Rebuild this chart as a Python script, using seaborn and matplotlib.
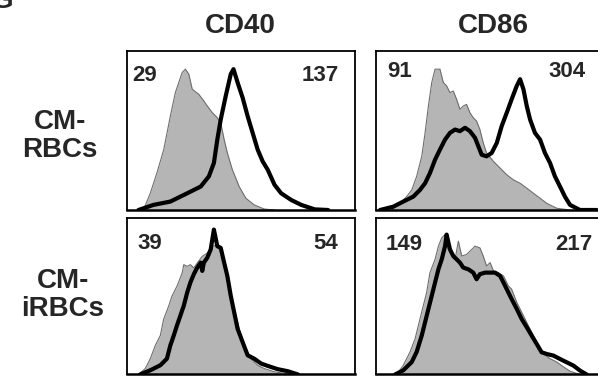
import matplotlib
matplotlib.use("Agg")
import matplotlib.pyplot as plt
import seaborn as sns

# fluorescence channel (0-100) and relative counts (% of panel height)
# CD40 / CM-RBCs
cd40_rbc_iso_x = [7.2, 10.2, 13.1, 16.1, 19.0, 21.2, 24.2, 25.6, 27.1, 28.6, 31.5, 33.7, 35.2, 37.4,
                  39.6, 41.1, 42.6, 44.0, 46.2, 49.2, 52.1, 55.8, 60.2, 64.7]
cd40_rbc_iso_y = [0, 10.5, 23.2, 37.9, 58.9, 73.7, 86.3, 88.4, 85.3, 75.8, 72.6, 68.4, 65.3, 61.1,
                  57.9, 54.7, 44.2, 35.8, 25.3, 14.7, 7.4, 3.2, 0.6, 0]
cd40_rbc_x = [5.0, 11.6, 19.0, 26.4, 32.3, 35.9, 38.1, 39.6, 41.1, 43.3, 45.5, 46.7, 48.5, 50.7, 52.9,
              55.1, 57.3, 59.5, 61.7, 64.7, 67.6, 72.0, 76.4, 82.3, 88.2]
cd40_rbc_y = [0, 3.2, 5.3, 10.5, 14.7, 21.1, 29.5, 44.2, 56.8, 71.6, 85.3, 88.4, 80.0, 70.5, 58.9,
              48.4, 37.9, 30.5, 25.3, 15.8, 10.5, 6.3, 3.2, 0.4, 0]

# CD86 / CM-RBCs
cd86_rbc_iso_x = [7.1, 10.8, 13.8, 16.1, 18.3, 20.6, 22.1, 23.6, 25.1, 26.6, 28.8, 30.3, 31.8, 33.3,
                  34.8, 36.3, 37.8, 39.3, 40.8, 42.3, 43.8, 45.3, 46.8, 48.3, 49.8, 52.9, 55.9, 58.9,
                  61.9, 64.9, 67.9, 70.9, 73.9, 76.9, 81.4, 87.4]
cd86_rbc_iso_y = [0, 4.2, 8.4, 12.6, 21.1, 33.7, 48.4, 65.3, 80.0, 88.4, 88.4, 80.0, 77.9, 73.7,
                  74.7, 69.5, 63.2, 65.3, 66.3, 61.1, 57.9, 55.8, 50.5, 42.1, 35.8, 30.5, 26.3, 22.1,
                  18.9, 16.8, 13.7, 10.5, 7.4, 4.2, 1.1, 0]
cd86_rbc_x = [1.8, 7.8, 12.3, 16.8, 19.8, 22.1, 24.3, 26.6, 28.8, 31.1, 33.3, 35.6, 37.8, 40.1, 42.3,
              44.6, 46.1, 47.6, 49.8, 52.1, 54.4, 56.6, 58.9, 61.1, 63.4, 64.9, 66.4, 67.9, 69.4,
              71.6, 73.9, 76.1, 78.4, 80.6, 82.9, 85.1, 87.4, 91.9, 99.4]
cd86_rbc_y = [0, 2.1, 5.3, 8.4, 12.6, 16.8, 23.2, 31.6, 37.9, 44.2, 48.4, 50.5, 49.5, 51.6, 49.5,
              45.3, 40.0, 34.7, 33.7, 35.8, 42.1, 52.6, 61.1, 69.5, 77.9, 82.1, 75.8, 65.3, 56.8,
              48.4, 44.2, 35.8, 29.5, 21.1, 14.7, 8.4, 3.2, 0, 0]

# CD40 / CM-iRBCs
cd40_irbc_iso_x = [5.0, 8.0, 10.2, 12.4, 14.6, 16.1, 18.3, 19.7, 21.9, 24.2, 24.9, 26.4, 27.8, 29.3,
                   30.8, 33.0, 35.2, 37.4, 39.6, 41.1, 42.6, 44.0, 45.5, 47.0, 48.5, 49.9, 52.1,
                   54.3, 57.3, 60.2, 64.7, 70.5, 75.0]
cd40_irbc_iso_y = [0, 3.8, 10.1, 18.6, 24.9, 35.5, 43.8, 50.1, 56.4, 64.9, 70.2, 69.1, 70.2, 68.1,
                   71.2, 75.5, 77.6, 81.8, 82.9, 79.7, 73.4, 65.1, 52.4, 41.9, 33.4, 25.0, 16.5,
                   10.1, 5.9, 3.8, 1.7, 0.4, 0]
cd40_irbc_x = [5.7, 10.2, 14.6, 17.5, 19.0, 20.5, 21.9, 23.4, 24.9, 26.4, 27.8, 29.3, 30.8, 32.3,
               33.0, 33.7, 35.2, 36.7, 38.1, 39.6, 41.1, 42.6, 44.0, 45.5, 47.0, 48.5, 50.7, 52.9,
               55.8, 58.8, 61.7, 66.1, 70.5, 75.0]
cd40_irbc_y = [0, 2.7, 5.9, 10.1, 18.6, 24.9, 31.3, 37.6, 44.0, 52.4, 58.8, 64.1, 68.3, 71.5,
               66.2, 71.5, 74.6, 79.9, 92.6, 82.0, 80.9, 71.5, 63.0, 50.3, 39.7, 29.2, 20.7, 12.3,
               10.1, 7.0, 5.5, 3.4, 2.1, 0]

# CD86 / CM-iRBCs
cd86_irbc_iso_x = [9.3, 12.3, 15.3, 17.6, 19.8, 21.3, 22.8, 24.3, 26.6, 28.1, 29.6, 31.1, 32.6, 34.1,
                   35.6, 37.1, 38.6, 40.8, 43.1, 44.6, 46.8, 48.3, 49.8, 51.4, 52.9, 55.1, 57.4,
                   59.6, 61.1, 63.4, 66.4, 68.6, 70.9, 73.1, 75.4, 78.4, 81.4, 84.4, 87.4, 91.9]
cd86_irbc_iso_y = [0, 5.9, 14.4, 22.8, 35.5, 44.0, 52.4, 65.1, 73.6, 82.0, 87.3, 89.4, 80.0, 77.8,
                   73.6, 85.2, 75.7, 76.7, 79.9, 82.0, 80.9, 75.7, 69.3, 71.5, 66.2, 65.1, 63.0,
                   56.7, 54.5, 46.1, 37.6, 31.3, 24.9, 18.6, 13.3, 10.1, 8.0, 4.9, 2.1, 0]
cd86_irbc_x = [8.6, 12.3, 16.1, 18.3, 20.6, 22.1, 23.6, 25.1, 26.6, 28.1, 29.6, 31.1, 31.8, 33.3,
               34.8, 36.3, 37.8, 39.3, 41.6, 43.8, 45.3, 46.8, 49.1, 51.4, 53.6, 55.9, 57.4, 58.9,
               61.1, 63.4, 65.6, 67.9, 70.1, 72.4, 74.6, 76.9, 79.9, 82.9, 85.9, 88.9, 91.9, 94.9]
cd86_irbc_y = [0, 2.7, 8.0, 14.4, 24.9, 33.4, 41.9, 50.3, 58.8, 67.2, 73.6, 82.0, 89.4, 80.0,
               75.7, 73.6, 71.5, 68.3, 67.2, 65.1, 60.9, 64.1, 65.1, 65.1, 65.1, 63.0, 58.8, 54.5,
               48.2, 41.9, 35.5, 30.2, 24.9, 19.5, 14.2, 13.1, 12.1, 9.9, 7.8, 5.7, 2.5, 0]

col_titles = ["CD40", "CD86"]
row_titles = ["CM-\nRBCs", "CM-\niRBCs"]
mfi_iso = [["29", "91"], ["39", "149"]]
mfi_stain = [["137", "304"], ["54", "217"]]

panels = [
    [(cd40_rbc_iso_x, cd40_rbc_iso_y, cd40_rbc_x, cd40_rbc_y),
     (cd86_rbc_iso_x, cd86_rbc_iso_y, cd86_rbc_x, cd86_rbc_y)],
    [(cd40_irbc_iso_x, cd40_irbc_iso_y, cd40_irbc_x, cd40_irbc_y),
     (cd86_irbc_iso_x, cd86_irbc_iso_y, cd86_irbc_x, cd86_irbc_y)],
]

sns.set_style("white")
plt.rcParams['font.family'] = ['Liberation Sans', 'DejaVu Sans']

fig = plt.figure(figsize=(5.98, 3.76), dpi=100)

# axes boxes in figure fraction [left, bottom, width, height]
boxes = [
    [[0.2124, 0.4415, 0.3813, 0.4237], [0.6288, 0.4415, 0.3712, 0.4237]],
    [[0.2124, 0.004, 0.3813, 0.4162], [0.6288, 0.004, 0.3712, 0.4162]],
]
iso_pos = [[(0.025, 0.91), (0.05, 0.935)], [(0.045, 0.905), (0.045, 0.895)]]
stain_pos = [[(0.93, 0.91), (0.945, 0.935)], [(0.925, 0.905), (0.975, 0.895)]]

for r in range(2):
    for c in range(2):
        ix, iy, sx, sy = panels[r][c]
        ax = fig.add_axes(boxes[r][c])
        ax.fill_between(ix, iy, 0, color="#b5b5b5", lw=0, zorder=1)
        sns.lineplot(x=ix, y=iy, ax=ax, color="#6e6e6e", lw=0.8, sort=False, zorder=2)
        sns.lineplot(x=sx, y=sy, ax=ax, color="black", lw=3.0, sort=False, zorder=3)
        ax.set_xlim(0, 100)
        ax.set_ylim(0, 100)
        ax.set_xticks([])
        ax.set_yticks([])
        ax.set_xlabel("")
        ax.set_ylabel("")
        for s in ax.spines.values():
            s.set_visible(True)
            s.set_color("black")
            s.set_linewidth(1.3)
        ax.spines["bottom"].set_linewidth(1.8)
        if c == 1:
            ax.spines["right"].set_visible(False)
        ax.text(*iso_pos[r][c], mfi_iso[r][c], transform=ax.transAxes, ha="left", va="top",
                fontsize=16, fontweight="bold")
        ax.text(*stain_pos[r][c], mfi_stain[r][c], transform=ax.transAxes, ha="right", va="top",
                fontsize=16, fontweight="bold")

fig.text(0.402, 0.912, col_titles[0], ha="center", va="baseline", fontsize=20, fontweight="bold")
fig.text(0.825, 0.912, col_titles[1], ha="center", va="baseline", fontsize=20, fontweight="bold")
fig.text(0.100, 0.638, row_titles[0], ha="center", va="center", fontsize=20, fontweight="bold",
         linespacing=1.1)
fig.text(0.105, 0.215, row_titles[1], ha="center", va="center", fontsize=20, fontweight="bold",
         linespacing=1.1)
fig.text(0.023, 0.979, "G", ha="right", va="baseline", fontsize=20, fontweight="bold")

fig.savefig("out.png", dpi=100)
